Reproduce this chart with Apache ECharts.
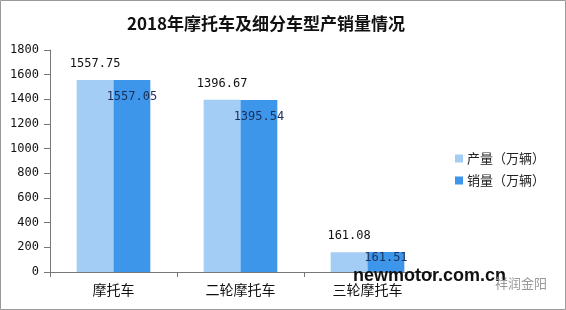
<!DOCTYPE html>
<html><head><meta charset="utf-8">
<script src="https://cdn.jsdelivr.net/npm/echarts@6/dist/echarts.min.js"></script>
<style>html,body{margin:0;padding:0;background:#fff}#c{width:566px;height:310px}</style>
</head><body><div id="c"></div>
<script>
const titleText = '2018年摩托车及细分车型产销量情况';
const categories = ['摩托车', '二轮摩托车', '三轮摩托车'];
const seriesNames = ['产量（万辆）', '销量（万辆）'];
const production = [1557.75, 1396.67, 161.08];
const sales = [1557.05, 1395.54, 161.51];
const yTicks = [0, 200, 400, 600, 800, 1000, 1200, 1400, 1600, 1800];

const chart = echarts.init(document.getElementById('c'));
const monoFont = '"DejaVu Sans Mono", monospace';
chart.setOption({
  animation: false,
  title: {
    text: titleText, left: 261, top: 10, textAlign: 'center',
    textStyle: { fontFamily: '"Noto Sans CJK SC"', fontSize: 17, fontWeight: 'bold', color: '#111' }
  },
  grid: { left: 50, right: 135, top: 50, bottom: 38 },
  legend: {
    orient: 'vertical', left: 450, top: 147, itemWidth: 8, itemHeight: 8, itemGap: 9,
    icon: 'rect',
    textStyle: { fontFamily: '"Noto Sans CJK SC"', fontSize: 13, color: '#222', padding: [0, 0, 0, -1] },
    data: seriesNames
  },
  xAxis: {
    type: 'category', data: categories,
    axisLine: { lineStyle: { color: '#777' } },
    axisTick: { show: true, length: 5, lineStyle: { color: '#777' } },
    axisLabel: { fontFamily: '"Noto Sans CJK SC"', fontSize: 14, color: '#111', margin: 11 }
  },
  yAxis: {
    type: 'value', min: yTicks[0], max: yTicks[yTicks.length - 1], interval: yTicks[1] - yTicks[0],
    axisLine: { show: true, lineStyle: { color: '#777' } },
    axisTick: { show: true, length: 6, lineStyle: { color: '#777' } },
    splitLine: { show: false },
    axisLabel: { fontFamily: monoFont, fontSize: 12, color: '#111', margin: 11, formatter: v => String(v) }
  },
  series: [
    {
      name: seriesNames[0], type: 'bar', data: production,
      barCategoryGap: '42%', barGap: '0%',
      itemStyle: { color: '#a3cdf5' },
      label: { show: true, position: 'top', distance: 10, fontFamily: monoFont, fontSize: 12, color: '#111' }
    },
    {
      name: seriesNames[1], type: 'bar',
      data: sales.map((v, i) => i === 2
        ? { value: v, label: { distance: 0 } }
        : v),
      itemStyle: { color: '#3d96ea' },
      label: { show: true, position: 'insideTop', distance: 11, fontFamily: monoFont, fontSize: 12, color: '#1a2f5a' }
    }
  ],
  graphic: [
    { type: 'rect', shape: { x: 0.5, y: 0.5, width: 565, height: 309 }, style: { fill: 'none', stroke: '#999', lineWidth: 1 }, z: 100 },
    { type: 'text', left: 353, top: 267, z: 100,
      style: { text: 'newmotor.com.cn', font: 'bold 18px "Liberation Sans", Arial', fill: '#111' } },
    { type: 'text', left: 495, top: 277, z: 100,
      style: { text: '祥润金阳', font: '13px "Noto Sans CJK SC"', fill: '#999' } }
  ]
});
</script></body></html>
